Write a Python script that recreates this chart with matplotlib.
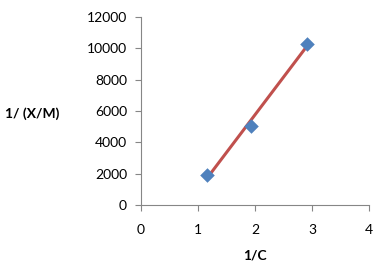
import numpy as np
import matplotlib
matplotlib.use("Agg")
import matplotlib.pyplot as plt

# data
inv_c = [1.155, 1.925, 2.905]
inv_xm = [1900, 5030, 10270]
x_ticks = [0, 1, 2, 3, 4]
y_ticks = [0, 2000, 4000, 6000, 8000, 10000, 12000]

plt.rcParams['font.family'] = ['Lato', 'DejaVu Sans']

fig = plt.figure(figsize=(3.89, 2.77), dpi=100)
ax = fig.add_axes([141 / 389, 72 / 277, 228 / 389, 188 / 277])

# linear trendline
k, b = np.polyfit(inv_c, inv_xm, 1)
xs = np.array([min(inv_c), max(inv_c)])
ax.plot(xs, k * xs + b, color='#c0504d', linewidth=2.2, zorder=2)
ax.scatter(inv_c, inv_xm, marker='D', s=55, color='#4f81bd', zorder=3, linewidths=0)

ax.set_xlim(0, 4)
ax.set_ylim(0, 12000)
ax.set_xticks(x_ticks)
ax.set_yticks(y_ticks)
ax.tick_params(direction='out', length=4, color='#868686', labelsize=10, pad=10)
ax.tick_params(axis='y', pad=6)
for s in ['top', 'right']:
    ax.spines[s].set_visible(False)
for s in ['left', 'bottom']:
    ax.spines[s].set_color('#868686')

fig.text(255 / 389, 1 - 255 / 277, '1/C', ha='center', va='center', fontsize=10, fontweight='bold')
fig.text(5 / 389, 1 - 114 / 277, '1/ (X/M)', ha='left', va='center', fontsize=10, fontweight='bold')

fig.savefig('out.png', dpi=100)
